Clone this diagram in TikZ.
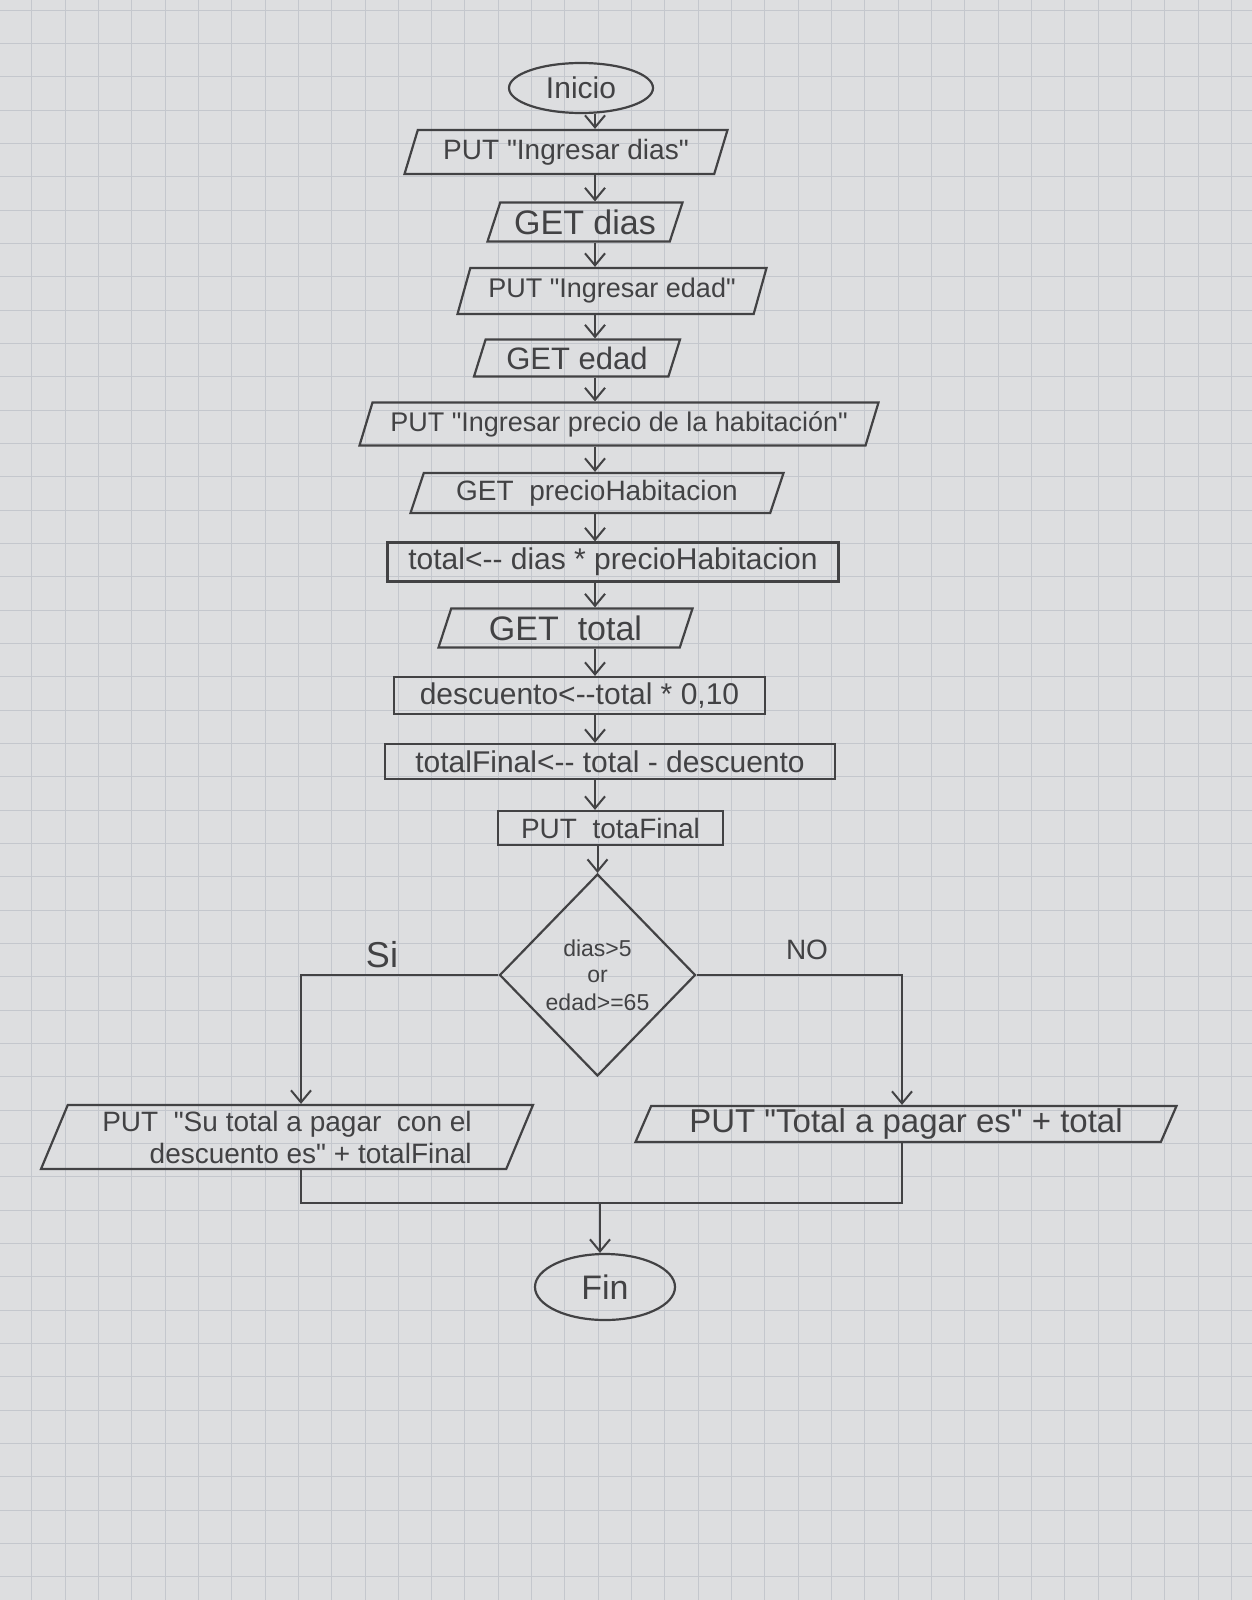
\documentclass[tikz,border=0pt]{standalone}
\usepackage{fontspec}
\setmainfont{Liberation Sans}[Ligatures=TeXOff]
\usetikzlibrary{shapes.geometric,arrows.meta,calc}
\definecolor{paper}{RGB}{221,222,224}
\definecolor{gridc}{RGB}{196,199,205}
\definecolor{inkc}{RGB}{66,66,68}
\begin{document}
\begin{tikzpicture}[x=1pt,y=-1pt,
  ink/.style={draw=inkc,line width=2.2pt,text=inkc},
  fs/.style={font=\fontsize{#1}{#1}\selectfont},
  io/.style={ink,trapezium,trapezium left angle=63,trapezium right angle=117,
    trapezium stretches body,inner sep=0pt},
  proc/.style={ink,rectangle,inner sep=0pt},
  term/.style={ink,ellipse,inner sep=0pt},
  decis/.style={ink,diamond,inner sep=0pt,align=center},
  arr/.style={draw=inkc,line width=2pt,-{Straight Barb[length=12pt,width=20pt,line width=2pt]}},
  wire/.style={draw=inkc,line width=2.2pt},
  gridline/.style={draw=gridc,line width=1pt},
  lbl/.style={text=inkc,inner sep=0pt}]
\useasboundingbox (0,0) rectangle (1252,1600);
\fill[paper] (0,0) rectangle (1252,1600);
\foreach \i in {0,...,37} \draw[gridline] ({31.7+33.33*\i},0) -- ({31.7+33.33*\i},1600);
\foreach \j in {0,...,47} \draw[gridline] (0,{10.3+33.33*\j}) -- (1252,{10.3+33.33*\j});

\coordinate (sp) at (595,0);

\node[term,fs=30,minimum width=144pt,minimum height=50pt] (inicio) at (581,88) {Inicio};
\node[io,fs=28,minimum width=323pt,minimum height=44pt] (put1) at (566,152) {PUT "Ingresar dias"};
\node[io,fs=34,minimum width=195pt,minimum height=39pt] (get1) at (585,222) {GET dias};
\node[io,fs=27,minimum width=309pt,minimum height=46pt] (put2) at (612,291) {PUT "Ingresar edad"};
\node[io,fs=31,minimum width=206pt,minimum height=37pt] (get2) at (577,358) {GET edad};
\node[io,fs=27,minimum width=519pt,minimum height=43pt] (put3) at (619,424) {PUT "Ingresar precio de la habitación"};
\node[io,fs=28,minimum width=373pt,minimum height=40pt] (get3) at (597,493) {GET\ \ precioHabitacion};
\node[proc,fs=30,minimum width=451pt,minimum height=39pt] (calc1) at (613,562) {total<-- dias * precioHabitacion};
\node[io,fs=34,minimum width=254pt,minimum height=39pt] (get4) at (565.5,628) {GET\ \ total};
\node[proc,fs=30,minimum width=371pt,minimum height=37pt] (calc2) at (579.5,695.5) {descuento<--total * 0,10};
\node[proc,fs=30,minimum width=450pt,minimum height=35pt] (calc3) at (610,761.5) {totalFinal<-- total - descuento};
\node[proc,fs=28,minimum width=225pt,minimum height=34pt] (put4) at (610.5,828) {PUT\ \ totaFinal};
\node[decis,fs=23,minimum width=196pt,minimum height=202pt] (dec) at (597.5,975) {dias>5\\[3pt]or\\[5pt]edad>=65};
\node[io,font=\fontsize{28}{32}\selectfont,align=right,minimum width=492pt,minimum height=64pt] (outL) at (287,1137) {PUT\ \ "Su total a pagar\ \ con el\\descuento es" + totalFinal};
\node[io,fs=33,minimum width=541pt,minimum height=36pt] (outR) at (906,1124) {PUT "Total a pagar es" + total};
\node[term,fs=34,minimum width=140pt,minimum height=66pt] (fin) at (605,1287) {Fin};

\node[lbl,fs=36] (si) at (382,955) {Si};
\node[lbl,fs=28] (no) at (807,950) {NO};

\draw[arr] (inicio.south -| sp) -- (put1.north -| sp);
\draw[arr] (put1.south -| sp) -- (get1.north -| sp);
\draw[arr] (get1.south -| sp) -- (put2.north -| sp);
\draw[arr] (put2.south -| sp) -- (get2.north -| sp);
\draw[arr] (get2.south -| sp) -- (put3.north -| sp);
\draw[arr] (put3.south -| sp) -- (get3.north -| sp);
\draw[arr] (get3.south -| sp) -- (calc1.north -| sp);
\draw[arr] (calc1.south -| sp) -- (get4.north -| sp);
\draw[arr] (get4.south -| sp) -- (calc2.north -| sp);
\draw[arr] (calc2.south -| sp) -- (calc3.north -| sp);
\draw[arr] (calc3.south -| sp) -- (put4.north -| sp);
\draw[arr] (put4.south -| dec.north) -- (dec.north);

\coordinate (cL) at (301,975);
\coordinate (cR) at (902,975);
\coordinate (mL) at (301,1203);
\coordinate (mR) at (902,1203);
\coordinate (mC) at (600,1203);
\draw[arr] (dec.west) -- (dec.west -| cL) -- (outL.north -| cL);
\draw[arr] (dec.east) -- (dec.east -| cR) -- (outR.north -| cR);
\draw[wire] (outL.south -| cL) -- (mL) -- (mR) -- (outR.south -| cR);
\draw[arr] (mC) -- (fin.north -| mC);
\end{tikzpicture}
\end{document}
